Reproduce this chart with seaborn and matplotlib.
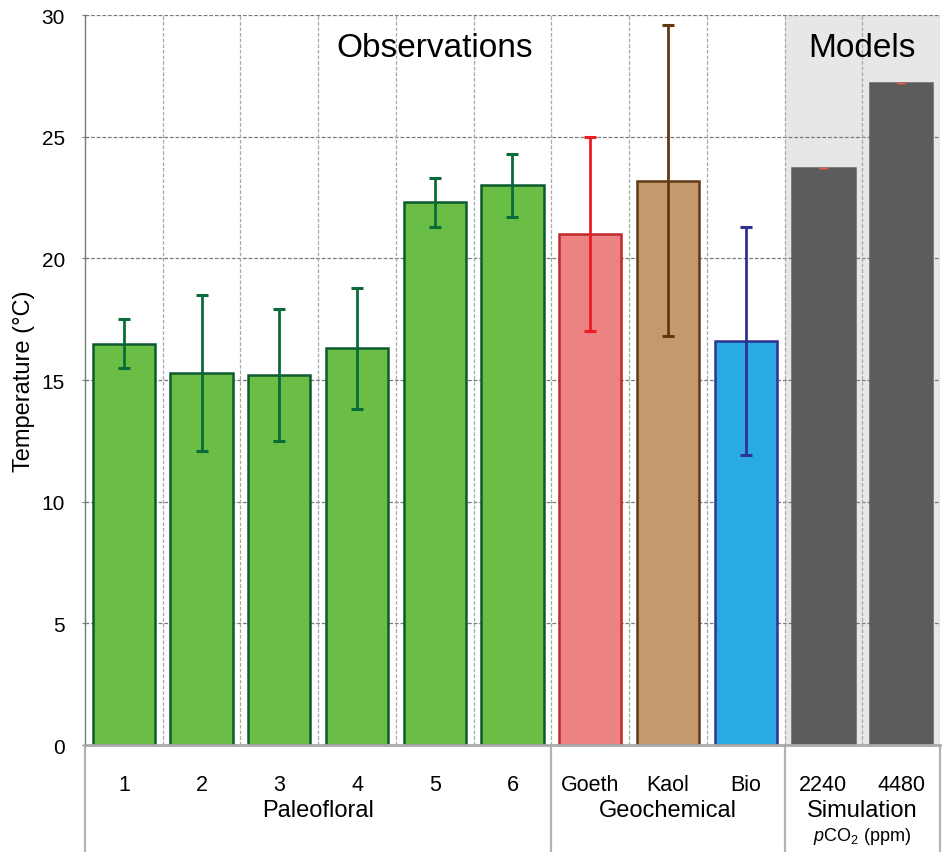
import seaborn as sns
import matplotlib.pyplot as plt
import matplotlib.transforms as mtransforms
import pandas as pd

# Data
categories = ["1", "2", "3", "4", "5", "6", "Goeth", "Kaol", "Bio", "2240", "4480"]
temps = [16.5, 15.3, 15.2, 16.3, 22.3, 23.0, 21.0, 23.2, 16.6, 23.7, 27.2]
err_high = [17.5, 18.5, 17.9, 18.8, 23.3, 24.3, 25.0, 29.6, 21.3, 23.7, 27.2]
err_low = [15.5, 12.1, 12.5, 13.8, 21.3, 21.7, 17.0, 16.8, 11.9, 23.7, 27.2]
groups = ["Paleofloral", "Geochemical", "Simulation"]
group_spans = [(0, 5), (6, 8), (9, 10)]

fill_colors = ["#6abd45"] * 6 + ["#ec8281", "#c49a6c", "#29abe2", "#5d5c5d", "#5d5c5d"]
edge_colors = ["#0c5a2e"] * 6 + ["#c1272d", "#603913", "#2e3192", "#5d5c5d", "#5d5c5d"]
err_colors = ["#0a6b3a"] * 6 + ["#ed1c24", "#603913", "#2e3192", "#f05a4a", "#f05a4a"]

sns.set_style("white")
plt.rcParams["font.family"] = ["Liberation Sans", "DejaVu Sans"]
plt.rcParams["text.color"] = "black"
plt.rcParams["axes.labelcolor"] = "black"
plt.rcParams["ytick.labelcolor"] = "black"
plt.rcParams["xtick.labelcolor"] = "black"
plt.rcParams["mathtext.fontset"] = "custom"
plt.rcParams["mathtext.rm"] = "Liberation Sans"
plt.rcParams["mathtext.it"] = "Liberation Sans:italic"

df = pd.DataFrame({"cat": categories, "temp": temps})

fig = plt.figure(figsize=(9.44, 8.53), dpi=100)
ax = fig.add_axes([0.090, 0.1254, 0.9058, 0.8558])

sns.barplot(data=df, x="cat", y="temp", hue="cat", palette=fill_colors,
            saturation=1, legend=False, width=0.8, ax=ax, zorder=2)
bars = [p for c in ax.containers for p in c]
for patch, ec in zip(bars, edge_colors):
    patch.set_edgecolor(ec)
    patch.set_linewidth(1.8)

# shaded model region
ax.axvspan(8.5, 10.5, color="#e6e7e8", zorder=0, lw=0)

# grid
for y in range(5, 31, 5):
    ax.axhline(y, color="#7a7a7a", lw=0.9, ls=(0, (3, 1.5)), zorder=0.5)
for x in [i + 0.5 for i in range(11)]:
    ax.axvline(x, color="#a8a8a8", lw=0.9, ls=(0, (3, 1.5)), zorder=0.5)

for i, (t, hi, lo, c) in enumerate(zip(temps, err_high, err_low, err_colors)):
    thin = hi == lo
    ax.errorbar(i, t, yerr=[[t - lo], [hi - t]], fmt="none", ecolor=c,
                elinewidth=2, capsize=4.5 if not thin else 3,
                capthick=2.2 if not thin else 1, zorder=3)

ax.set_xlim(-0.5, 10.5)
ax.set_ylim(0, 30)
ax.set_yticks(range(0, 31, 5))
ax.set_ylabel("Temperature (°C)", fontsize=17, labelpad=5)
ax.set_xlabel("")
ax.tick_params(axis="y", labelsize=15, pad=12, direction="inout", length=5,
               color="#777777", left=True)
ax.tick_params(axis="x", labelsize=15.5, pad=21, length=0)

for side in ["top", "right"]:
    ax.spines[side].set_visible(False)
ax.spines["left"].set_color("#777777")
ax.spines["left"].set_linewidth(1)
ax.spines["bottom"].set_color("#aaaaaa")
ax.spines["bottom"].set_linewidth(2)

trans = mtransforms.blended_transform_factory(ax.transData, ax.transAxes)
for x in [-0.5, 5.5, 8.5, 10.5]:
    ax.plot([x, x], [0, -0.15], color="#b3b3b3", lw=1.6, transform=trans,
            clip_on=False)
for name, (a, b) in zip(groups, group_spans):
    ax.text((a + b) / 2, -0.089, name, transform=trans, ha="center",
            va="center", fontsize=17)
ax.text(9.5, -0.124, r"$p$CO$_2$ (ppm)", transform=trans, ha="center",
        va="center", fontsize=13)

ax.text(4.0, 0.956, "Observations", transform=trans, ha="center", va="center",
        fontsize=24)
ax.text(9.5, 0.956, "Models", transform=trans, ha="center", va="center",
        fontsize=24)

fig.savefig("out.png", dpi=100)
